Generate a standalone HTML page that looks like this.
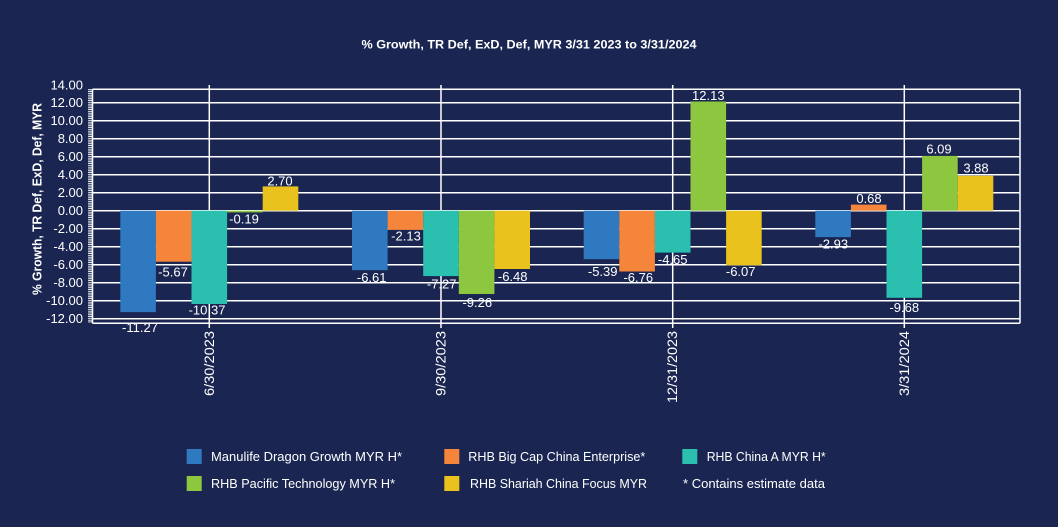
<!DOCTYPE html>
<html><head><meta charset="utf-8"><style>
html,body{margin:0;padding:0;background:#1a2651;}
svg{display:block;}
text{font-family:"Liberation Sans",sans-serif;fill:#ffffff;}
</style></head><body>
<svg width="1058" height="527" viewBox="0 0 1058 527" xmlns="http://www.w3.org/2000/svg">
<rect width="1058" height="527" fill="#1a2651"/>
<!-- title -->
<text x="529" y="48.5" text-anchor="middle" font-size="12" font-weight="bold" textLength="335" lengthAdjust="spacingAndGlyphs">% Growth, TR Def, ExD, Def, MYR 3/31 2023 to 3/31/2024</text>
<!-- y axis title -->
<text transform="translate(41.5,199) rotate(-90)" text-anchor="middle" font-size="12.5" font-weight="bold" textLength="192" lengthAdjust="spacingAndGlyphs">% Growth, TR Def, ExD, Def, MYR</text>
<!-- horizontal gridlines -->
<g stroke="#ffffff" stroke-width="1.5">
<line x1="92.5" x2="1020" y1="102.7" y2="102.7"/>
<line x1="92.5" x2="1020" y1="120.7" y2="120.7"/>
<line x1="92.5" x2="1020" y1="138.7" y2="138.7"/>
<line x1="92.5" x2="1020" y1="156.7" y2="156.7"/>
<line x1="92.5" x2="1020" y1="174.7" y2="174.7"/>
<line x1="92.5" x2="1020" y1="192.7" y2="192.7"/>
<line x1="92.5" x2="1020" y1="210.7" y2="210.7"/>
<line x1="92.5" x2="1020" y1="228.7" y2="228.7"/>
<line x1="92.5" x2="1020" y1="246.7" y2="246.7"/>
<line x1="92.5" x2="1020" y1="264.7" y2="264.7"/>
<line x1="92.5" x2="1020" y1="282.7" y2="282.7"/>
<line x1="92.5" x2="1020" y1="300.7" y2="300.7"/>
<line x1="92.5" x2="1020" y1="318.7" y2="318.7"/>
<!-- frame -->
<line x1="92.5" x2="1020" y1="89.3" y2="89.3"/>
<line x1="92.5" x2="1020" y1="323.3" y2="323.3"/>
<line x1="1020" x2="1020" y1="89.3" y2="323.3"/>
<line x1="92.5" x2="92.5" y1="89.3" y2="323.3"/>
<!-- category lines -->
<line x1="209.3" x2="209.3" y1="85" y2="328"/>
<line x1="441" x2="441" y1="85" y2="328"/>
<line x1="672.7" x2="672.7" y1="85" y2="328"/>
<line x1="904.3" x2="904.3" y1="85" y2="328"/>
</g>
<!-- minor ticks -->
<line x1="90.3" x2="90.3" y1="89.3" y2="323.3" stroke="#ffffff" stroke-width="4.5" stroke-dasharray="0.9 0.9"/>
<!-- y labels -->
<g font-size="13" text-anchor="end" dominant-baseline="central">
<text x="83" y="85">14.00</text>
<text x="83" y="102.7">12.00</text>
<text x="83" y="120.7">10.00</text>
<text x="83" y="138.7">8.00</text>
<text x="83" y="156.7">6.00</text>
<text x="83" y="174.7">4.00</text>
<text x="83" y="192.7">2.00</text>
<text x="83" y="210.7">0.00</text>
<text x="83" y="228.7">-2.00</text>
<text x="83" y="246.7">-4.00</text>
<text x="83" y="264.7">-6.00</text>
<text x="83" y="282.7">-8.00</text>
<text x="83" y="300.7">-10.00</text>
<text x="83" y="318.7">-12.00</text>
</g>
<!-- bars -->
<g>
<rect x="120.3" y="210.7" width="35.6" height="101.4" fill="#2f79c0"/>
<rect x="155.9" y="210.7" width="35.6" height="51.0" fill="#f5853a"/>
<rect x="191.5" y="210.7" width="35.6" height="93.3" fill="#2abfae"/>
<rect x="227.1" y="210.7" width="35.6" height="1.7" fill="#8dc63f"/>
<rect x="262.7" y="186.4" width="35.6" height="24.3" fill="#e9c21e"/>
<rect x="352" y="210.7" width="35.6" height="59.5" fill="#2f79c0"/>
<rect x="387.6" y="210.7" width="35.6" height="19.2" fill="#f5853a"/>
<rect x="423.2" y="210.7" width="35.6" height="65.4" fill="#2abfae"/>
<rect x="458.8" y="210.7" width="35.6" height="83.3" fill="#8dc63f"/>
<rect x="494.4" y="210.7" width="35.6" height="58.3" fill="#e9c21e"/>
<rect x="583.7" y="210.7" width="35.6" height="48.5" fill="#2f79c0"/>
<rect x="619.3" y="210.7" width="35.6" height="60.8" fill="#f5853a"/>
<rect x="654.9" y="210.7" width="35.6" height="41.9" fill="#2abfae"/>
<rect x="690.5" y="101.5" width="35.6" height="109.2" fill="#8dc63f"/>
<rect x="726.1" y="210.7" width="35.6" height="54.6" fill="#e9c21e"/>
<rect x="815.3" y="210.7" width="35.6" height="26.4" fill="#2f79c0"/>
<rect x="850.9" y="204.6" width="35.6" height="6.1" fill="#f5853a"/>
<rect x="886.5" y="210.7" width="35.6" height="87.1" fill="#2abfae"/>
<rect x="922.1" y="155.9" width="35.6" height="54.8" fill="#8dc63f"/>
<rect x="957.7" y="175.8" width="35.6" height="34.9" fill="#e9c21e"/>
</g>
<!-- data labels -->
<g font-size="13" text-anchor="middle" dominant-baseline="central">
<text x="280" y="181">2.70</text>
<text x="244" y="219">-0.19</text>
<text x="173" y="272">-5.67</text>
<text x="207" y="310">-10.37</text>
<text x="140" y="327.7">-11.27</text>
<text x="371.7" y="277.3">-6.61</text>
<text x="406" y="236">-2.13</text>
<text x="441.7" y="284">-7.27</text>
<text x="477.3" y="302.3">-9.26</text>
<text x="512.7" y="276.3">-6.48</text>
<text x="602.7" y="271.7">-5.39</text>
<text x="638.3" y="277.3">-6.76</text>
<text x="672.7" y="259.3">-4.65</text>
<text x="708.3" y="95.5">12.13</text>
<text x="740.7" y="271.7">-6.07</text>
<text x="833.3" y="244">-2.93</text>
<text x="869" y="198.7">0.68</text>
<text x="904.3" y="307.3">-9.68</text>
<text x="939" y="149">6.09</text>
<text x="976" y="168">3.88</text>
</g>
<!-- x labels -->
<g font-size="13.5" text-anchor="end">
<text transform="translate(213.8,331) rotate(-90)" textLength="65" lengthAdjust="spacingAndGlyphs">6/30/2023</text>
<text transform="translate(445.5,331) rotate(-90)" textLength="65" lengthAdjust="spacingAndGlyphs">9/30/2023</text>
<text transform="translate(677.2,331) rotate(-90)" textLength="72" lengthAdjust="spacingAndGlyphs">12/31/2023</text>
<text transform="translate(908.8,331) rotate(-90)" textLength="65" lengthAdjust="spacingAndGlyphs">3/31/2024</text>
</g>
<!-- legend -->
<rect x="186.7" y="449" width="15" height="15" fill="#2f79c0"/>
<rect x="444.3" y="449" width="15" height="15" fill="#f5853a"/>
<rect x="682.3" y="449" width="15" height="15" fill="#2abfae"/>
<rect x="186.7" y="476" width="15" height="15" fill="#8dc63f"/>
<rect x="444.3" y="476" width="15" height="15" fill="#e9c21e"/>
<g font-size="13" dominant-baseline="central">
<text x="211" y="456.5" textLength="191" lengthAdjust="spacingAndGlyphs">Manulife Dragon Growth MYR H*</text>
<text x="468.3" y="456.5" textLength="177" lengthAdjust="spacingAndGlyphs">RHB Big Cap China Enterprise*</text>
<text x="706.7" y="456.5" textLength="119" lengthAdjust="spacingAndGlyphs">RHB China A MYR H*</text>
<text x="211" y="483.5" textLength="184" lengthAdjust="spacingAndGlyphs">RHB Pacific Technology MYR H*</text>
<text x="470" y="483.5" textLength="177" lengthAdjust="spacingAndGlyphs">RHB Shariah China Focus MYR</text>
<text x="683" y="483.5" textLength="142" lengthAdjust="spacingAndGlyphs">*  Contains estimate data</text>
</g>
</svg>
</body></html>
